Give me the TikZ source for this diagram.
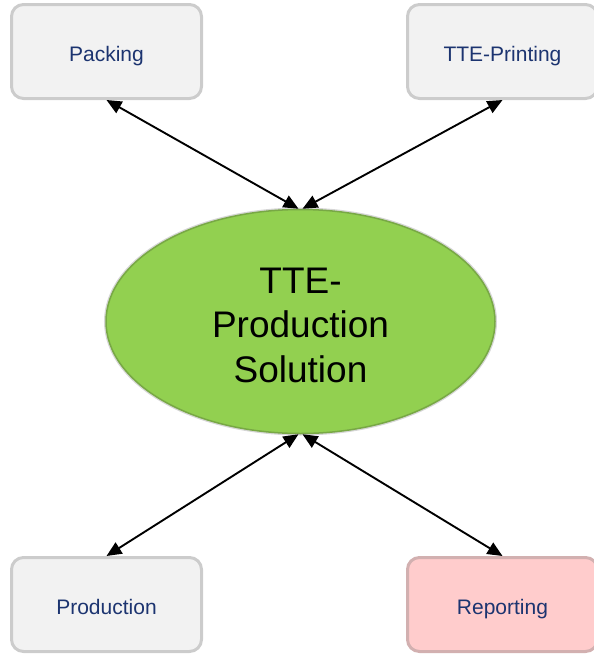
\documentclass[tikz,border=0pt]{standalone}
\usepackage{fontspec}
\setmainfont{Liberation Sans}
\usetikzlibrary{shapes.geometric,arrows.meta}
\definecolor{boxfill}{HTML}{F2F2F2}
\definecolor{boxline}{HTML}{CCCCCC}
\definecolor{boxhalo}{HTML}{D6D6D6}
\definecolor{repfill}{HTML}{FFCCCC}
\definecolor{repline}{HTML}{D2B0B0}
\definecolor{solfill}{HTML}{92D050}
\definecolor{solline}{HTML}{78A845}
\definecolor{txtblue}{HTML}{1C3470}
\begin{document}
\begin{tikzpicture}[x=1pt,y=-1pt,
  modbox/.style={rounded corners=12pt, fill=boxfill, draw=boxline, line width=3pt,
    minimum width=190pt, minimum height=94pt, inner sep=0pt, text=txtblue,
    text height=22pt, text depth=2pt,
    font=\fontsize{21}{25}\selectfont},
  repbox/.style={modbox, fill=repfill, draw=repline},
  solnode/.style={ellipse, fill=solfill, draw=solline, line width=1.5pt,
    preaction={draw=boxhalo, line width=4pt},
    minimum width=389pt, minimum height=224pt, inner sep=0pt, align=center,
    text height=121.7pt, text depth=0pt,
    font=\fontsize{37}{44.6}\selectfont},
  link/.style={line width=1.9pt, {Triangle[length=15pt,width=13pt]}-{Triangle[length=15pt,width=13pt]}}]
\useasboundingbox (0,0) rectangle (594,654);
\clip (0,0) rectangle (594,654);
\node[modbox] (pack) at (106.5,51.5) {Packing};
\node[modbox] (print) at (502.5,51.5) {TTE-Printing};
\node[modbox] (prod) at (106.5,604.5) {Production};
\node[repbox] (rep) at (502.5,604.5) {Reporting};
\node[solnode] (sol) at (300.5,321.5) {TTE-\\Production\\Solution};
\draw[link] (pack.south) -- ([xshift=-2pt]sol.north);
\draw[link] (print.south) -- ([xshift=2pt]sol.north);
\draw[link] ([xshift=-2pt]sol.south) -- (prod.north);
\draw[link] ([xshift=2pt]sol.south) -- (rep.north);
\end{tikzpicture}
\end{document}
